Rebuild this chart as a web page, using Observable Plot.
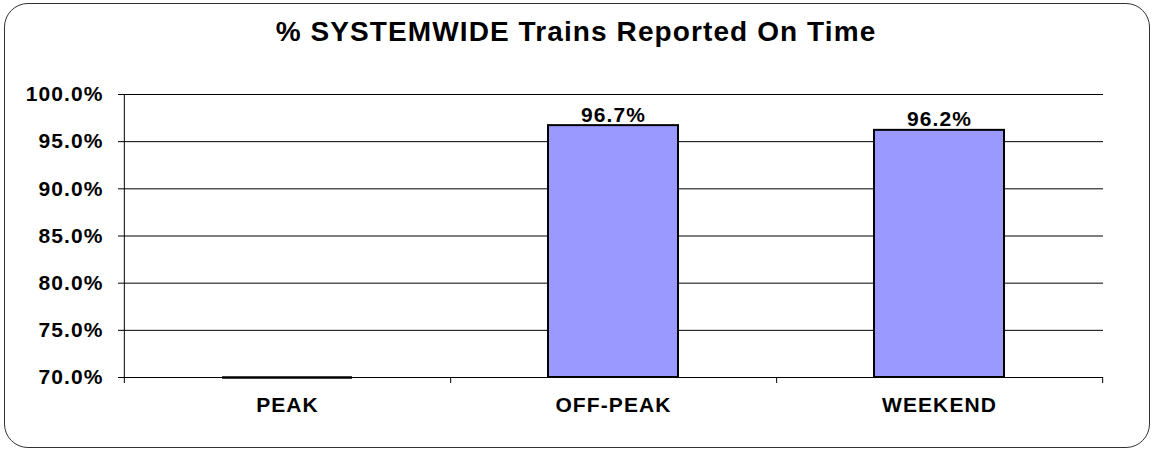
<!DOCTYPE html>
<html>
<head>
<meta charset="utf-8">
<script src="https://cdn.jsdelivr.net/npm/d3@7"></script>
<script src="https://cdn.jsdelivr.net/npm/@observablehq/plot@0.6"></script>
<style>
  html, body { margin: 0; padding: 0; background: #fff; }
  #wrap { position: relative; width: 1152px; height: 450px; overflow: hidden; }
  #border { position: absolute; left: 4px; top: 3px; width: 1146px; height: 445px; box-sizing: border-box;
            border: 1px solid #333; border-radius: 24px; }
  #title { position: absolute; left: 0; top: 18px; width: 1152px; text-align: center;
           font-family: "Liberation Sans", Arial, sans-serif; font-weight: bold; font-size: 28px;
           line-height: 28px; letter-spacing: 1.1px; color: #000; }
  #chart { position: absolute; left: 0; top: 0; }
</style>
</head>
<body>
<div id="wrap">
  <div id="border"></div>
  <div id="chart"></div>
  <div id="title"></div>
</div>
<script>
const title = "% SYSTEMWIDE Trains Reported On Time";
const categories = ["PEAK", "OFF-PEAK", "WEEKEND"];
const values = [70.0, 96.7, 96.2];
const yTicks = [70, 75, 80, 85, 90, 95, 100];

document.getElementById("title").textContent = title;

const data = categories.map((c, i) => ({category: c, value: values[i]}));

const W = 1152, H = 450, ML = 124, MR = 49, MT = 94, MB = 73;
const step = (W - ML - MR) / categories.length;
const fmt = d => d.toFixed(1) + "%";

const chart = Plot.plot({
  width: W, height: H,
  marginLeft: ML, marginRight: MR, marginTop: MT, marginBottom: MB,
  style: {
    fontFamily: "'Liberation Sans', Arial, sans-serif",
    fontSize: "21px", fontWeight: "bold", letterSpacing: "1.1px",
    color: "#000", background: "transparent", overflow: "visible"
  },
  x: {domain: categories, paddingInner: 0.6, paddingOuter: 0.3, label: null},
  y: {domain: [yTicks[0], yTicks[yTicks.length - 1]], label: null},
  marks: [
    Plot.ruleY(yTicks, {stroke: "#000", strokeWidth: 1}),
    Plot.ruleX([categories[0]], {x: d => d, dx: -step / 2, insetBottom: -6, stroke: "#000"}),
    Plot.ruleX(categories, {x: d => d, dx: step / 2, y1: yTicks[0], y2: yTicks[0], insetBottom: -6, stroke: "#000"}),
    Plot.barY(data, {x: "category", y1: yTicks[0], y2: "value", fill: "#9999FF", stroke: "#000", strokeWidth: 2}),
    // a bar collapsed onto the axis minimum still shows its outline
    Plot.tickY(data.filter(d => d.value <= yTicks[0]), {x: "category", y: "value", stroke: "#000", strokeWidth: 2.5}),
    Plot.text(data.filter(d => d.value > yTicks[0]), {
      x: "category", y: "value", text: d => fmt(d.value),
      dy: -4, lineAnchor: "bottom", fill: "#000"
    }),
    Plot.axisY({ticks: yTicks, tickSize: 6, tickPadding: 15, tickFormat: fmt, label: null, stroke: "#000"}),
    Plot.axisX({tickSize: 0, tickPadding: 20, label: null})
  ]
});
document.getElementById("chart").appendChild(chart);
</script>
</body>
</html>
